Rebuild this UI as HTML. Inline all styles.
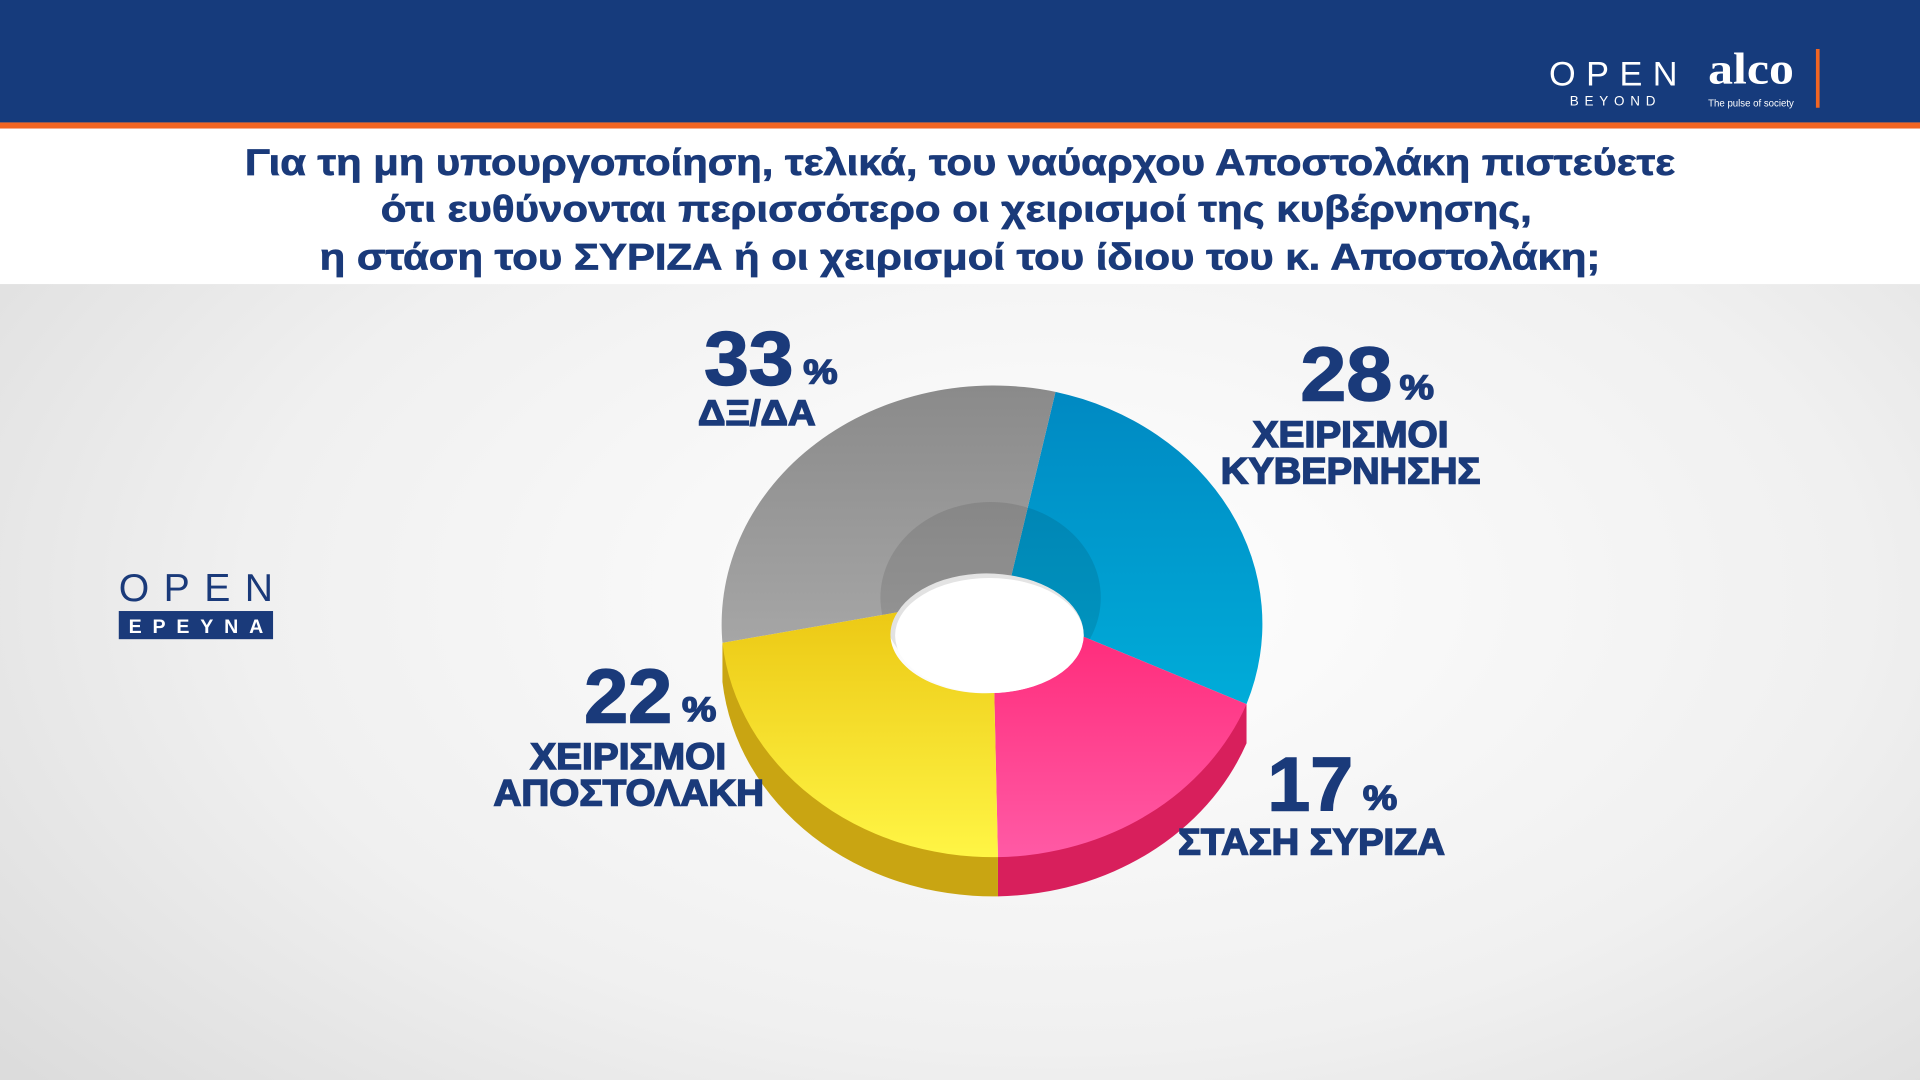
<!DOCTYPE html>
<html><head><meta charset="utf-8"><style>
html,body{margin:0;padding:0;width:1920px;height:1080px;overflow:hidden;background:#fff}
svg{display:block}
text{font-family:"Liberation Sans","DejaVu Sans",sans-serif;font-weight:bold}
</style></head><body>
<svg width="1920" height="1080" viewBox="0 0 1568 882" preserveAspectRatio="none">
<defs>
<radialGradient id="bg" cx="0.55" cy="0.55" r="0.7">
<stop offset="0" stop-color="#ffffff"/><stop offset="0.6" stop-color="#f0f0f0"/><stop offset="1" stop-color="#dcdcdc"/>
</radialGradient>
<linearGradient id="gy" x1="0" y1="0" x2="0" y2="1"><stop offset="0" stop-color="#8a8a8a"/><stop offset="1" stop-color="#a6a6a6"/></linearGradient>
<linearGradient id="bl" x1="0" y1="0" x2="0" y2="1"><stop offset="0" stop-color="#0089c2"/><stop offset="1" stop-color="#00acd9"/></linearGradient>
<linearGradient id="pk" x1="0" y1="0" x2="0" y2="1"><stop offset="0" stop-color="#ff2d7c"/><stop offset="1" stop-color="#ff5aa5"/></linearGradient>
<linearGradient id="yl" x1="0" y1="0" x2="0" y2="1"><stop offset="0" stop-color="#ecc915"/><stop offset="1" stop-color="#fff545"/></linearGradient>
</defs>
<rect width="1568" height="882" fill="url(#bg)"/>
<rect x="0" y="0" width="1568" height="100" fill="#163b7c"/>
<rect x="0" y="100" width="1568" height="5" fill="#f26522"/>
<rect x="0" y="105" width="1568" height="127" fill="#fff"/>
<g fill="#1a3a7a" text-anchor="middle" font-size="30" stroke="#1a3a7a" stroke-width="0.6">
<text x="784" y="143" textLength="1168" lengthAdjust="spacingAndGlyphs">Για τη μη υπουργοποίηση, τελικά, του ναύαρχου Αποστολάκη πιστεύετε</text>
<text x="781" y="181" textLength="940" lengthAdjust="spacingAndGlyphs">ότι ευθύνονται περισσότερο οι χειρισμοί της κυβέρνησης,</text>
<text x="784" y="220" textLength="1046" lengthAdjust="spacingAndGlyphs">η στάση του ΣΥΡΙΖΑ ή οι χειρισμοί του ίδιου του κ. Αποστολάκη;</text>
</g>
<g fill="#fff">
<text x="1265" y="70" font-size="28" style="font-weight:normal" textLength="105" lengthAdjust="spacing">OPEN</text>
<text x="1282" y="86" font-size="11" style="font-weight:normal" textLength="70" lengthAdjust="spacing">BEYOND</text>
<text x="1395" y="68" font-size="36" style="font-family:'Liberation Serif',serif" textLength="70" lengthAdjust="spacingAndGlyphs">alco</text>
<text x="1395" y="87" font-size="8" style="font-weight:normal" textLength="70" lengthAdjust="spacingAndGlyphs">The pulse of society</text>
</g>
<rect x="1483" y="40" width="3" height="48" fill="#f26522"/>
<text x="97" y="491" font-size="32" fill="#1a3a7a" style="font-weight:normal" textLength="126" lengthAdjust="spacing">OPEN</text>
<rect x="97" y="499" width="126" height="23" fill="#1a3a7a"/>
<text x="160" y="517" font-size="16" fill="#fff" text-anchor="middle" textLength="110" lengthAdjust="spacing">ΕΡΕΥΝΑ</text>
<g transform="translate(0,32)">
<path d="M1018 575 A222 195 0 0 1 815 700 L815 668 L1018 543 Z" fill="#d81f5c"/>
<path d="M815 700 A222 195 0 0 1 590 525 L590 493 L815 668 Z" fill="#c9a512"/>
</g>
<path d="M826 470 L862 320 A222 195 0 0 1 1018 575 L885 520 A78 50 0 0 0 826 470 Z" fill="url(#bl)"/>
<path d="M733 500 L590 525 A222 195 0 0 1 862 320 L826 470 A78 50 0 0 0 733 500 Z" fill="url(#gy)"/>
<ellipse cx="809" cy="488" rx="90" ry="78" fill="#000" opacity="0.1"/>
<path d="M885 520 L1018 575 A222 195 0 0 1 815 700 L812 566 A78 48 0 0 0 885 520 Z" fill="url(#pk)"/>
<path d="M812 566 L815 700 A222 195 0 0 1 590 525 L733 500 A78 48 0 0 0 812 566 Z" fill="url(#yl)"/>
<ellipse cx="808" cy="519" rx="77" ry="47" fill="#fff"/>
<g fill="#1a3a7a" stroke="#1a3a7a" stroke-width="1.2">
<text x="575" y="314" font-size="62" textLength="73" lengthAdjust="spacingAndGlyphs">33</text>
<text x="656" y="313" font-size="28" textLength="28" lengthAdjust="spacingAndGlyphs">%</text>
<text x="570" y="347" font-size="29" textLength="96" lengthAdjust="spacingAndGlyphs">ΔΞ/ΔΑ</text>
<text x="1062" y="327" font-size="62" textLength="75" lengthAdjust="spacingAndGlyphs">28</text>
<text x="1143" y="326" font-size="28" textLength="28" lengthAdjust="spacingAndGlyphs">%</text>
<text x="1023" y="365" font-size="30" textLength="160" lengthAdjust="spacingAndGlyphs">ΧΕΙΡΙΣΜΟΙ</text>
<text x="997" y="395" font-size="30" textLength="212" lengthAdjust="spacingAndGlyphs">ΚΥΒΕΡΝΗΣΗΣ</text>
<text x="477" y="590" font-size="62" textLength="72" lengthAdjust="spacingAndGlyphs">22</text>
<text x="557" y="589" font-size="28" textLength="28" lengthAdjust="spacingAndGlyphs">%</text>
<text x="433" y="628" font-size="30" textLength="160" lengthAdjust="spacingAndGlyphs">ΧΕΙΡΙΣΜΟΙ</text>
<text x="403" y="658" font-size="30" textLength="221" lengthAdjust="spacingAndGlyphs">ΑΠΟΣΤΟΛΑΚΗ</text>
<text x="1035" y="662" font-size="62" textLength="70" lengthAdjust="spacingAndGlyphs">17</text>
<text x="1113" y="661" font-size="28" textLength="28" lengthAdjust="spacingAndGlyphs">%</text>
<text x="962" y="698" font-size="30" textLength="218" lengthAdjust="spacingAndGlyphs">ΣΤΑΣΗ ΣΥΡΙΖΑ</text>
</g>
</svg>
</body></html>
